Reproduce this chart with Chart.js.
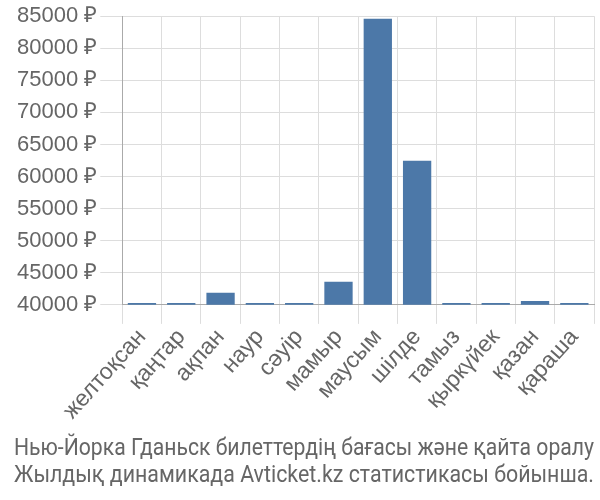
<!DOCTYPE html>
<html>
<head>
<meta charset="utf-8">
<script src="https://cdn.jsdelivr.net/npm/chart.js@4"></script>
<style>
html,body{margin:0;padding:0;background:#fff;}
#wrap{width:600px;height:500px;position:relative;}
</style>
</head>
<body>
<div id="wrap"><canvas id="c" width="600" height="500"></canvas></div>
<script>
const categories = ["желтоқсан","қаңтар","ақпан","наур","сәуір","мамыр","маусым","шілде","тамыз","қыркүйек","қазан","қараша"];
const prices = [40300, 40300, 41900, 40300, 40300, 43600, 84600, 62450, 40300, 40300, 40600, 40300];
const yTicks = [40000,45000,50000,55000,60000,65000,70000,75000,80000,85000];
const titleLines = ["Нью-Йорка Гданьск билеттердің бағасы және қайта оралу","Жылдық динамикада Avticket.kz статистикасы бойынша."];

const FONT = "'Liberation Sans', Arial, sans-serif";
new Chart(document.getElementById('c'), {
  type: 'bar',
  data: {
    labels: categories,
    datasets: [{
      data: prices,
      backgroundColor: '#4c78a8',
      borderWidth: 0,
      barPercentage: 0.9,
      categoryPercentage: 0.8
    }]
  },
  options: {
    responsive: false,
    animation: false,
    devicePixelRatio: 1,
    layout: { padding: { top: 4, right: 6, left: 14, bottom: 0 } },
    plugins: {
      legend: { display: false },
      tooltip: { enabled: false },
      title: {
        display: true,
        position: 'bottom',
        text: titleLines,
        color: '#666',
        font: { family: "Roboto, sans-serif", size: 24, weight: 'normal', lineHeight: 1.15 },
        padding: { top: 10, bottom: 10 }
      }
    },
    scales: {
      x: {
        grid: { color: '#dddddd', lineWidth: 1, tickLength: 19, offset: true },
        border: { color: '#aaaaaa' },
        ticks: {
          color: '#666',
          font: { family: FONT, size: 23 },
          minRotation: 48, maxRotation: 48,
          autoSkip: false,
          padding: 0
        }
      },
      y: {
        min: 40000, max: 85000,
        afterBuildTicks: (axis) => { axis.ticks = yTicks.map(v => ({ value: v })); },
        grid: { color: '#dddddd', lineWidth: 1, tickLength: 22 },
        border: { color: '#aaaaaa', width: 1 },
        ticks: {
          color: '#666',
          font: { family: FONT, size: 22 },
          padding: 3,
          callback: (v) => v + ' ₽'
        }
      }
    }
  }
});
</script>
</body>
</html>
